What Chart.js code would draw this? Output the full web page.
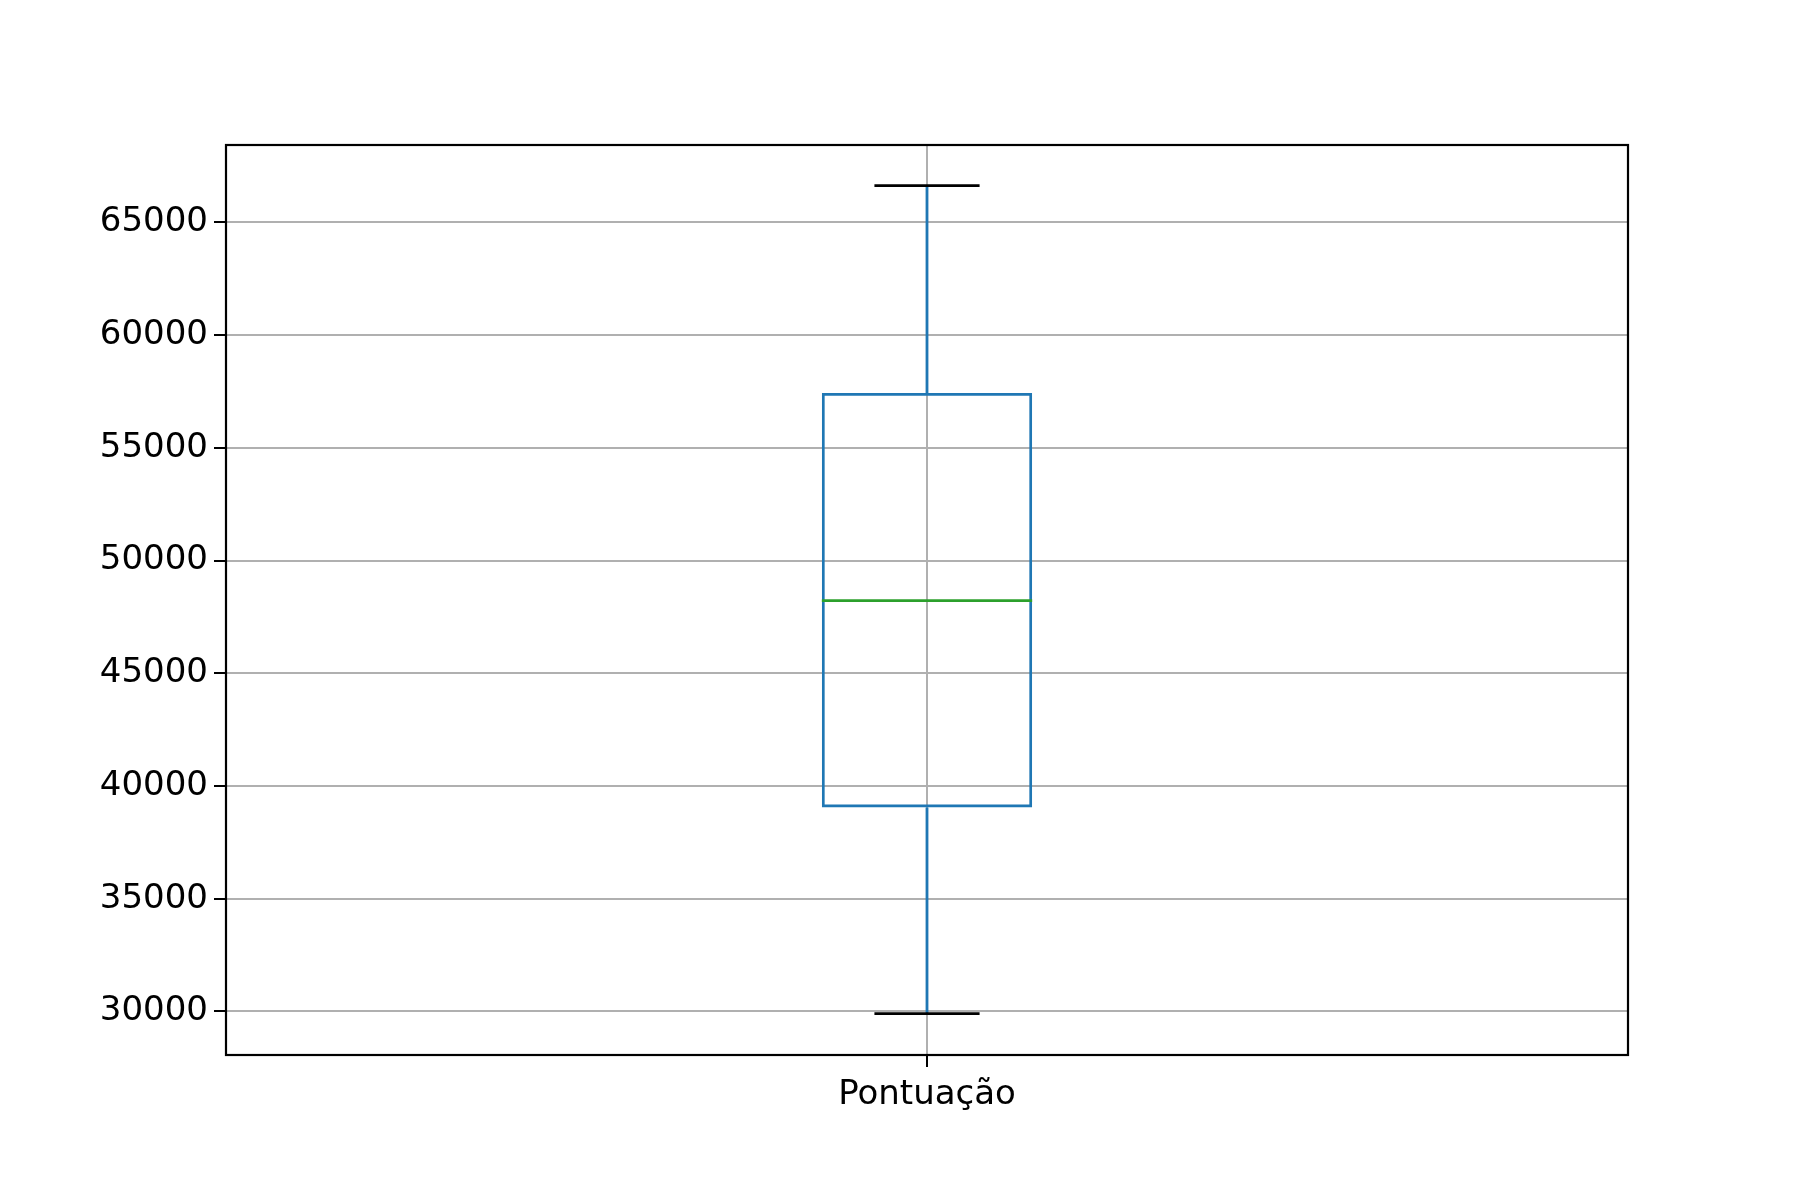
<!DOCTYPE html>
<html lang="pt">
<head>
<meta charset="UTF-8">
<title>Pontuação</title>
<script src="https://cdn.jsdelivr.net/npm/chart.js"></script>
<style>
  body { margin: 0; background: #fff; }
  canvas { display: block; }
</style>
</head>
<body>
<canvas id="box" width="1800" height="1200"></canvas>
<script>
const categories = ["Pontuação"];
const whiskerLow = [29900];
const q1 = [39050];
const median = [48220];
const q3 = [57430];
const whiskerHigh = [66630];
const yTicks = [30000, 35000, 40000, 45000, 50000, 55000, 60000, 65000];

const BLUE = '#1f77b4', GREEN = '#2ca02c';

const boxPlugin = {
  id: 'boxParts',
  afterDatasetsDraw(chart) {
    const ctx = chart.ctx, y = chart.scales.y;
    chart.getDatasetMeta(0).data.forEach((bar, i) => {
      const x = bar.x, half = bar.width / 2;
      ctx.save();
      ctx.lineWidth = 2.8;
      ctx.strokeStyle = BLUE;
      ctx.beginPath();
      ctx.moveTo(x, y.getPixelForValue(q3[i])); ctx.lineTo(x, y.getPixelForValue(whiskerHigh[i]));
      ctx.moveTo(x, y.getPixelForValue(q1[i])); ctx.lineTo(x, y.getPixelForValue(whiskerLow[i]));
      ctx.stroke();
      ctx.strokeStyle = '#000';
      ctx.beginPath();
      [whiskerHigh[i], whiskerLow[i]].forEach(v => {
        const py = y.getPixelForValue(v);
        ctx.moveTo(x - half / 2, py); ctx.lineTo(x + half / 2, py);
      });
      ctx.stroke();
      ctx.strokeStyle = GREEN;
      ctx.beginPath();
      const pm = y.getPixelForValue(median[i]);
      ctx.moveTo(x - half, pm); ctx.lineTo(x + half, pm);
      ctx.stroke();
      ctx.restore();
    });
    const a = chart.chartArea;
    ctx.save();
    ctx.strokeStyle = '#000';
    ctx.lineWidth = 2.2;
    ctx.strokeRect(a.left, a.top, a.right - a.left, a.bottom - a.top);
    ctx.restore();
  }
};

new Chart(document.getElementById('box'), {
  type: 'bar',
  data: {
    labels: categories,
    datasets: [{
      data: categories.map((_, i) => [q1[i], q3[i]]),
      backgroundColor: 'rgba(0,0,0,0)',
      borderColor: BLUE,
      borderWidth: 2.8,
      borderSkipped: false,
      barPercentage: 0.15,
      categoryPercentage: 1
    }]
  },
  options: {
    responsive: false,
    animation: false,
    devicePixelRatio: 1,
    layout: { padding: { top: 145, right: 172, left: 0, bottom: 0 } },
    plugins: { legend: { display: false }, tooltip: { enabled: false } },
    scales: {
      x: {
        afterFit: s => { s.height = 145; },
        border: { display: false },
        grid: { color: '#b0b0b0', lineWidth: 2, tickColor: '#000', tickLength: 12, offset: false },
        ticks: { color: '#000', font: { family: 'DejaVu Sans', size: 34 }, padding: 8 }
      },
      y: {
        min: 28065, max: 68435,
        afterFit: s => { s.width = 226; },
        afterBuildTicks: s => { s.ticks = yTicks.map(v => ({ value: v })); },
        border: { display: false },
        grid: { color: '#b0b0b0', lineWidth: 2, tickColor: '#000', tickLength: 12 },
        ticks: { color: '#000', font: { family: 'DejaVu Sans', size: 34 }, padding: 6, callback: v => String(v) }
      }
    }
  },
  plugins: [boxPlugin]
});
</script>
</body>
</html>
